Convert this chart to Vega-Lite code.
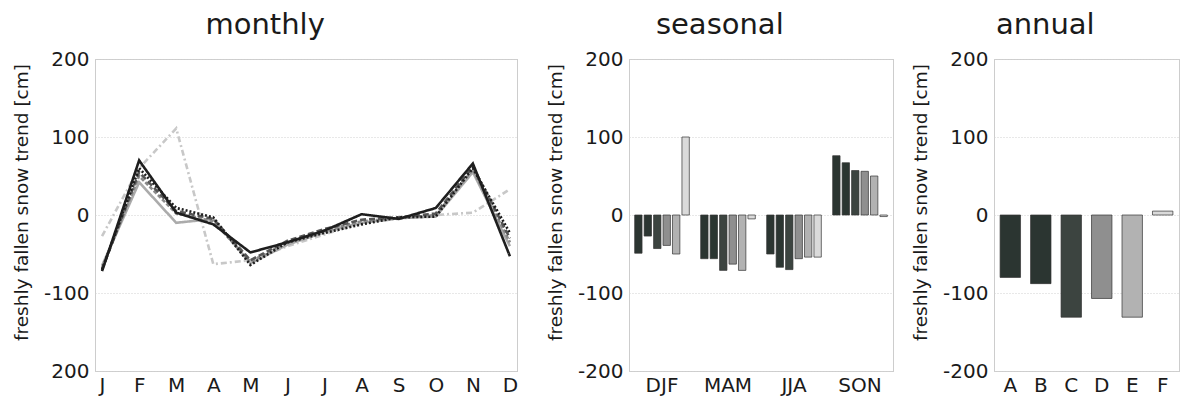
{
  "$schema": "https://vega.github.io/schema/vega-lite/v6.json",
  "background": "white",
  "padding": {"left": 12, "top": 10, "right": 5, "bottom": 5},
  "datasets": {
    "monthly": [
      {"series": "F", "month": 1, "value": -27}, {"series": "F", "month": 2, "value": 60}, {"series": "F", "month": 3, "value": 111}, {"series": "F", "month": 4, "value": -63}, {"series": "F", "month": 5, "value": -58}, {"series": "F", "month": 6, "value": -40}, {"series": "F", "month": 7, "value": -25}, {"series": "F", "month": 8, "value": -10}, {"series": "F", "month": 9, "value": -5}, {"series": "F", "month": 10, "value": 0}, {"series": "F", "month": 11, "value": 3}, {"series": "F", "month": 12, "value": 33},
      {"series": "E", "month": 1, "value": -65}, {"series": "E", "month": 2, "value": 42}, {"series": "E", "month": 3, "value": -10}, {"series": "E", "month": 4, "value": -5}, {"series": "E", "month": 5, "value": -62}, {"series": "E", "month": 6, "value": -38}, {"series": "E", "month": 7, "value": -22}, {"series": "E", "month": 8, "value": -10}, {"series": "E", "month": 9, "value": -4}, {"series": "E", "month": 10, "value": -2}, {"series": "E", "month": 11, "value": 55}, {"series": "E", "month": 12, "value": -40},
      {"series": "D", "month": 1, "value": -68}, {"series": "D", "month": 2, "value": 50}, {"series": "D", "month": 3, "value": 2}, {"series": "D", "month": 4, "value": -8}, {"series": "D", "month": 5, "value": -60}, {"series": "D", "month": 6, "value": -35}, {"series": "D", "month": 7, "value": -20}, {"series": "D", "month": 8, "value": -8}, {"series": "D", "month": 9, "value": -4}, {"series": "D", "month": 10, "value": 0}, {"series": "D", "month": 11, "value": 58}, {"series": "D", "month": 12, "value": -35},
      {"series": "C", "month": 1, "value": -70}, {"series": "C", "month": 2, "value": 55}, {"series": "C", "month": 3, "value": 5}, {"series": "C", "month": 4, "value": -5}, {"series": "C", "month": 5, "value": -58}, {"series": "C", "month": 6, "value": -33}, {"series": "C", "month": 7, "value": -18}, {"series": "C", "month": 8, "value": -6}, {"series": "C", "month": 9, "value": -3}, {"series": "C", "month": 10, "value": 2}, {"series": "C", "month": 11, "value": 62}, {"series": "C", "month": 12, "value": -30},
      {"series": "B", "month": 1, "value": -70}, {"series": "B", "month": 2, "value": 60}, {"series": "B", "month": 3, "value": 9}, {"series": "B", "month": 4, "value": -3}, {"series": "B", "month": 5, "value": -64}, {"series": "B", "month": 6, "value": -35}, {"series": "B", "month": 7, "value": -23}, {"series": "B", "month": 8, "value": -12}, {"series": "B", "month": 9, "value": -3}, {"series": "B", "month": 10, "value": -2}, {"series": "B", "month": 11, "value": 60}, {"series": "B", "month": 12, "value": -23},
      {"series": "A", "month": 1, "value": -72}, {"series": "A", "month": 2, "value": 70}, {"series": "A", "month": 3, "value": 3}, {"series": "A", "month": 4, "value": -12}, {"series": "A", "month": 5, "value": -48}, {"series": "A", "month": 6, "value": -35}, {"series": "A", "month": 7, "value": -20}, {"series": "A", "month": 8, "value": 1}, {"series": "A", "month": 9, "value": -5}, {"series": "A", "month": 10, "value": 9}, {"series": "A", "month": 11, "value": 66}, {"series": "A", "month": 12, "value": -53}
    ],
    "seasonal": [
      {"season": "DJF", "series": "A", "value": -49}, {"season": "DJF", "series": "B", "value": -27}, {"season": "DJF", "series": "C", "value": -43}, {"season": "DJF", "series": "D", "value": -39}, {"season": "DJF", "series": "E", "value": -50}, {"season": "DJF", "series": "F", "value": 100},
      {"season": "MAM", "series": "A", "value": -56}, {"season": "MAM", "series": "B", "value": -56}, {"season": "MAM", "series": "C", "value": -71}, {"season": "MAM", "series": "D", "value": -63}, {"season": "MAM", "series": "E", "value": -71}, {"season": "MAM", "series": "F", "value": -5},
      {"season": "JJA", "series": "A", "value": -50}, {"season": "JJA", "series": "B", "value": -67}, {"season": "JJA", "series": "C", "value": -70}, {"season": "JJA", "series": "D", "value": -56}, {"season": "JJA", "series": "E", "value": -54}, {"season": "JJA", "series": "F", "value": -54},
      {"season": "SON", "series": "A", "value": 76}, {"season": "SON", "series": "B", "value": 67}, {"season": "SON", "series": "C", "value": 57}, {"season": "SON", "series": "D", "value": 56}, {"season": "SON", "series": "E", "value": 50}, {"season": "SON", "series": "F", "value": -2}
    ],
    "annual": [
      {"series": "A", "value": -80}, {"series": "B", "value": -88}, {"series": "C", "value": -131}, {"series": "D", "value": -107}, {"series": "E", "value": -131}, {"series": "F", "value": 5}
    ]
  },
  "config": {
    "font": "DejaVu Sans",
    "view": {"stroke": "#9a9a9a", "strokeDash": [1, 1], "strokeWidth": 1},
    "axis": {
      "labelFont": "DejaVu Sans", "labelFontSize": 20, "labelColor": "#1a1a1a",
      "titleFont": "DejaVu Sans", "titleFontSize": 18.5, "titleFontWeight": "normal", "titleColor": "#1a1a1a",
      "domain": false, "ticks": false, "gridColor": "#d0d0d0", "gridDash": [1, 2], "labelPadding": 6, "titlePadding": 12
    },
    "axisY": {"titleY": 143},
    "title": {"fontSize": 29, "fontWeight": "normal", "font": "DejaVu Sans", "color": "#1a1a1a", "anchor": "middle", "frame": "bounds", "offset": 9}
  },
  "resolve": {"scale": {"color": "independent"}},
  "spacing": 27,
  "hconcat": [
    {
      "title": "monthly",
      "width": 422, "height": 312,
      "data": {"name": "monthly"},
      "mark": {"type": "line", "strokeJoin": "miter"},
      "encoding": {
        "x": {"field": "month", "type": "quantitative", "scale": {"domain": [0.81, 12.19], "nice": false, "zero": false},
          "axis": {"values": [1, 2, 3, 4, 5, 6, 7, 8, 9, 10, 11, 12], "labelExpr": "['J','F','M','A','M','J','J','A','S','O','N','D'][datum.value-1]", "grid": false, "title": null, "labelPadding": 4}},
        "y": {"field": "value", "type": "quantitative", "scale": {"domain": [-200, 200], "nice": false},
          "axis": {"values": [-200, -100, 0, 100, 200], "title": "freshly fallen snow trend [cm]", "labelExpr": "datum.value == -200 ? '200' : '' + datum.value"}},
        "color": {"field": "series", "type": "nominal", "scale": {"domain": ["A", "B", "C", "D", "E", "F"], "range": ["#1e1e1e", "#1e1e1e", "#555555", "#8a8a8a", "#ababab", "#c8c8c8"]}, "legend": null},
        "strokeDash": {"field": "series", "type": "nominal", "scale": {"domain": ["A", "B", "C", "D", "E", "F"], "range": [[1, 0], [2, 2], [6, 3], [4, 2], [1, 0], [6, 3, 2, 3]]}, "legend": null},
        "strokeWidth": {"field": "series", "type": "nominal", "scale": {"domain": ["A", "B", "C", "D", "E", "F"], "range": [2.6, 2.6, 1.6, 1.6, 2, 1.3]}, "legend": null}
      }
    },
    {
      "spacing": 17,
      "hconcat": [
        {
          "title": "seasonal",
          "width": 264, "height": 312,
          "data": {"name": "seasonal"},
          "mark": {"type": "bar", "stroke": "#333", "strokeWidth": 0.7},
          "encoding": {
            "x": {"field": "season", "type": "nominal", "sort": ["DJF", "MAM", "JJA", "SON"], "scale": {"paddingInner": 0, "paddingOuter": 0}, "axis": {"title": null, "labelAngle": 0, "grid": false, "labelPadding": 4}},
            "xOffset": {"field": "series", "type": "nominal", "sort": ["A", "B", "C", "D", "E", "F"], "scale": {"paddingInner": 0.22, "paddingOuter": 0.6}},
            "y": {"field": "value", "type": "quantitative", "scale": {"domain": [-200, 200], "nice": false}, "axis": {"values": [-200, -100, 0, 100, 200], "title": "freshly fallen snow trend [cm]", "labelExpr": "'' + datum.value"}},
            "color": {"field": "series", "type": "nominal", "scale": {"domain": ["A", "B", "C", "D", "E", "F"], "range": ["#2b3531", "#2b3531", "#3c4440", "#8f8f8f", "#b2b2b2", "#dadada"]}, "legend": null}
          }
        },
        {
          "title": "annual",
          "width": 185, "height": 312,
          "data": {"name": "annual"},
          "mark": {"type": "bar", "stroke": "#333", "strokeWidth": 0.7},
          "encoding": {
            "x": {"field": "series", "type": "nominal", "sort": ["A", "B", "C", "D", "E", "F"], "scale": {"paddingInner": 0.33, "paddingOuter": 0.2}, "axis": {"title": null, "labelAngle": 0, "grid": false, "labelPadding": 4}},
            "y": {"field": "value", "type": "quantitative", "scale": {"domain": [-200, 200], "nice": false}, "axis": {"values": [-200, -100, 0, 100, 200], "title": "freshly fallen snow trend [cm]", "labelExpr": "'' + datum.value"}},
            "color": {"field": "series", "type": "nominal", "scale": {"domain": ["A", "B", "C", "D", "E", "F"], "range": ["#2b3531", "#2b3531", "#3c4440", "#8f8f8f", "#b2b2b2", "#dadada"]}, "legend": null}
          }
        }
      ]
    }
  ]
}
